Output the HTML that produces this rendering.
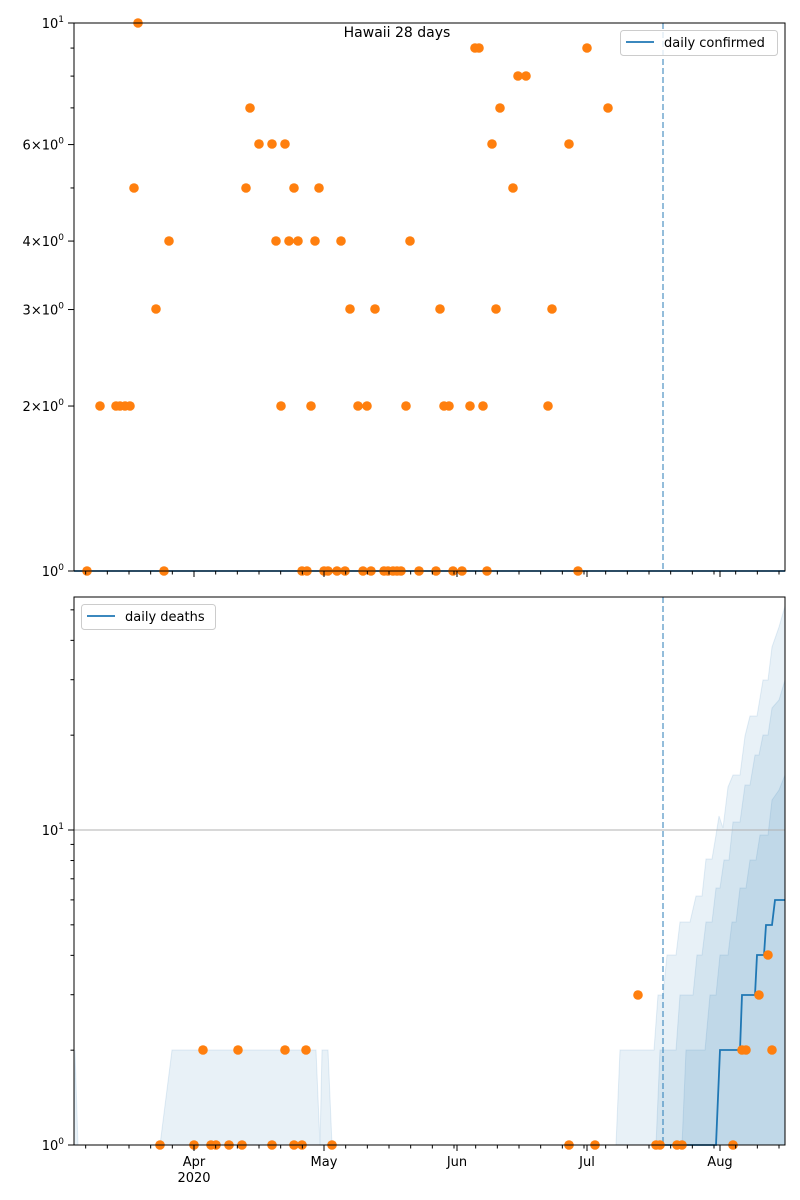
<!DOCTYPE html>
<html><head><meta charset="utf-8"><style>
html,body{margin:0;padding:0;background:#fff}
svg{display:block;font-family:"DejaVu Sans","Liberation Sans",sans-serif}
</style></head><body>
<svg id="s" width="800" height="1200" viewBox="0 0 800 1200" xmlns="http://www.w3.org/2000/svg">
<rect width="800" height="1200" fill="#fff"/>
<g fill="#1f77b4" stroke="#1f77b4" stroke-opacity="0.12" fill-opacity="0.1">
<polygon points="74,1145 75,1050 78,1145"/>
<polygon points="160,1145 172,1050 316,1050 320,1145 322,1050 328,1050 332,1145"/>
<polygon points="616,1145 620,1050 654,1050 658,995 663,995 667,955 676,955 680,922 690,922 696,896 702,896 706,859 712,859 716,835 719,816 723,828 728,787 733,775 740,775 745,736 750,716 757,716 763,680 768,680 772,647 779,627 785,606 785,1145"/>
<polygon points="656,1145 660,1050 676,1050 680,995 693,995 697,955 702,955 706,922 712,922 716,888 720,888 724,860 729,860 733,822 740,822 745,785 750,785 755,755 759,755 763,735 768,735 772,708 779,700 785,680 785,1145"/>
<polygon points="682,1145 686,1050 705,1050 710,995 716,995 720,955 728,955 732,922 736,922 740,888 746,888 750,860 756,860 760,835 768,835 772,800 779,790 785,775 785,1145"/>
</g>
<line x1="74" y1="830" x2="785" y2="830" stroke="#b0b0b0" stroke-width="1"/>
<line x1="663" y1="23" x2="663" y2="571" stroke="#1f77b4" stroke-opacity="0.6" stroke-width="1.6" stroke-dasharray="6,3"/>
<line x1="663" y1="597" x2="663" y2="1145" stroke="#1f77b4" stroke-opacity="0.6" stroke-width="1.6" stroke-dasharray="6,3"/>
<polyline fill="none" stroke="#1f77b4" stroke-width="1.8" points="663,1145 716,1145 720,1050 740,1050 742,995 755,995 757,955 764,955 766,925 772,925 775,900 785,900"/>
<line x1="74" y1="571" x2="785" y2="571" stroke="#1f77b4" stroke-width="1.8"/>
<g id="pts" fill="#ff7f0e"></g>
<g id="ax" stroke="#000" stroke-width="1" fill="none"></g>
<g id="lbl" font-size="13" fill="#000"></g>
<rect x="74" y="23" width="711" height="548" fill="none" stroke="#000" stroke-width="1"/>
<rect x="74" y="597" width="711" height="548" fill="none" stroke="#000" stroke-width="1"/>
<text x="397" y="37" font-size="14" text-anchor="middle">Hawaii 28 days</text>
<rect x="620.5" y="30.5" width="157" height="25" rx="3" fill="#fff" fill-opacity="0.8" stroke="#ccc"/>
<line x1="626" y1="42" x2="654" y2="42" stroke="#1f77b4" stroke-width="1.8"/>
<text x="664" y="47" font-size="13">daily confirmed</text>
<rect x="81.5" y="604.5" width="134" height="25" rx="3" fill="#fff" fill-opacity="0.8" stroke="#ccc"/>
<line x1="87" y1="616" x2="115" y2="616" stroke="#1f77b4" stroke-width="1.8"/>
<text x="125" y="621" font-size="13">daily deaths</text>
</svg>
<script>
(function(){
var NS="http://www.w3.org/2000/svg";
function el(p,t,a,txt){var e=document.createElementNS(NS,t);for(var k in a)e.setAttribute(k,a[k]);if(txt!=null)e.textContent=txt;document.getElementById(p).appendChild(e);return e;}
var tp=[[87,571],[100,406],[116,406],[120,406],[125,406],[130,406],[134,188],[138,23],[156,309],[164,571],[169,241],[246,188],[250,108],[259,144],[272,144],[276,241],[281,406],[285,144],[289,241],[294,188],[298,241],[302,571],[307,571],[311,406],[315,241],[319,188],[324,571],[328,571],[337,571],[341,241],[345,571],[350,309],[358,406],[363,571],[367,406],[371,571],[375,309],[384,571],[388,571],[393,571],[397,571],[401,571],[406,406],[410,241],[419,571],[436,571],[440,309],[444,406],[449,406],[453,571],[462,571],[470,406],[475,48],[479,48],[483,406],[487,571],[492,144],[496,309],[500,108],[513,188],[518,76],[526,76],[548,406],[552,309],[569,144],[578,571],[587,48],[608,108]];
tp.forEach(function(p){el("pts","circle",{cx:p[0],cy:p[1],r:4.8});});
[160,194,211,216,229,242,272,294,302,332,569,595,656,660,677,682,733].forEach(function(x){el("pts","circle",{cx:x,cy:1145,r:4.8});});
[203,238,285,306,742,746,772].forEach(function(x){el("pts","circle",{cx:x,cy:1050,r:4.8});});
[638,759].forEach(function(x){el("pts","circle",{cx:x,cy:995,r:4.8});});
el("pts","circle",{cx:768,cy:955,r:4.8});
for(var k=-6;k<=27;k++){var x=194+21.667*k;if(x<73.5||x>785.5)continue;
 [571,1145].forEach(function(y){el("ax","line",{x1:x,y1:y,x2:x,y2:y+3.5});});}
[194,324,457,587,720].forEach(function(x){[571,1145].forEach(function(y){el("ax","line",{x1:x,y1:y,x2:x,y2:y+6});});});
[["Apr",194],["May",324],["Jun",457],["Jul",587],["Aug",720]].forEach(function(a){el("lbl","text",{x:a[1],y:1166,"text-anchor":"middle"},a[0]);});
el("lbl","text",{x:194,y:1182,"text-anchor":"middle"},"2020");
for(var v=1;v<=10;v++){var y=571-548*Math.log10(v);var maj=(v==1||v==10||v==2||v==3||v==4||v==6);
 el("ax","line",{x1:74,y1:y,x2:maj?68:70.5,y2:y});}
function lab(y,pre,exp){var t=el("lbl","text",{x:64,y:y+5,"text-anchor":"end"});var s=document.createElementNS(NS,"tspan");s.textContent=pre;t.appendChild(s);var e=document.createElementNS(NS,"tspan");e.setAttribute("dy","-6");e.setAttribute("font-size","9");e.textContent=exp;t.appendChild(e);}
lab(23,"10","1");lab(571,"10","0");
[[2,"2\u00d710"],[3,"3\u00d710"],[4,"4\u00d710"],[6,"6\u00d710"]].forEach(function(a){lab(571-548*Math.log10(a[0]),a[1],"0");});
[1,2,3,4,5,6,7,8,9,10,20,30,40,50].forEach(function(v){var y=1145-315*Math.log10(v);var maj=(v==1||v==10);
 el("ax","line",{x1:74,y1:y,x2:maj?68:70.5,y2:y});});
lab(830,"10","1");lab(1145,"10","0");
})();
</script>
</body></html>
